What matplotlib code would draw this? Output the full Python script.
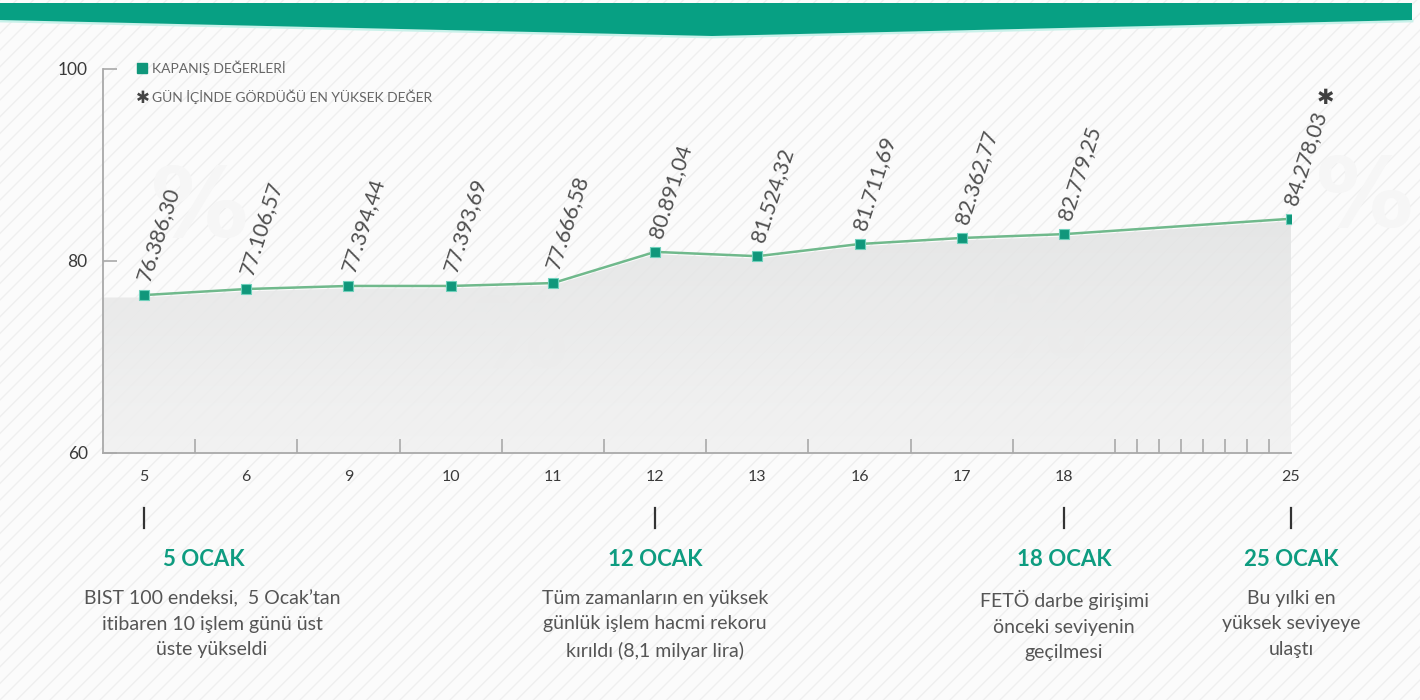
import matplotlib
matplotlib.use('Agg')
import matplotlib.pyplot as plt
import numpy as np
from matplotlib.patches import Polygon, Rectangle
from matplotlib.colors import LinearSegmentedColormap

# ---------------- data ----------------
days = ['5', '6', '9', '10', '11', '12', '13', '16', '17', '18', '25']
day_numbers = [5, 6, 9, 10, 11, 12, 13, 16, 17, 18, 25]
closing_labels = ['76.386,30', '77.106,57', '77.394,44', '77.393,69', '77.666,58',
                  '80.891,04', '81.524,32', '81.711,69', '82.362,77', '82.779,25',
                  '84.278,03']
# plotted level (thousand points) as drawn in the picture
closing_plotted = [76.45, 77.08, 77.40, 77.40, 77.70, 80.95, 80.50, 81.77, 82.40, 82.80, 84.40]
y_ticks = [60, 80, 100]
event_days = [5, 12, 18, 25]
event_titles = ['5 OCAK', '12 OCAK', '18 OCAK', '25 OCAK']
event_texts = ['BIST 100 endeksi,  5 Ocak\u2019tan\nitibaren 10 işlem günü üst\nüste yükseldi',
               'Tüm zamanların en yüksek\ngünlük işlem hacmi rekoru\nkırıldı (8,1 milyar lira)',
               'FETÖ darbe girişimi\nönceki seviyenin\ngeçilmesi',
               'Bu yılki en\nyüksek seviyeye\nulaştı']
legend_labels = ['KAPANIŞ DEĞERLERİ', 'GÜN İÇİNDE GÖRDÜĞÜ EN YÜKSEK DEĞER']
highlight_last = True

# ---------------- style ----------------
FONT = ['Lato', 'DejaVu Sans']
plt.rcParams['font.family'] = FONT
TEAL = '#0e9c80'
LINE = '#70b98c'
GREY = '#555555'
W, H = 1420, 700

fig = plt.figure(figsize=(W / 100, H / 100), dpi=100)
fig.patch.set_facecolor('#fcfcfc')

def fx(x):
    return x / W

def fy(y):
    return 1 - y / H

# background with faint diagonal stripes
plt.rcParams['hatch.linewidth'] = 1.0
bg = fig.add_axes([0, 0, 1, 1], zorder=0)
bg.set_xlim(0, W)
bg.set_ylim(H, 0)
bg.axis('off')
bg.add_patch(Rectangle((0, 0), W, H, facecolor='#fbfbfb', edgecolor='#efefef',
                       hatch='//', lw=0))
for (px, py) in [(200, 210), (520, 340), (1040, 330), (1365, 200)]:
    bg.text(px, py, '%', fontsize=70, color='#f6f6f6', ha='center', va='center',
            family='DejaVu Sans', weight='bold')

# top band
band = Polygon([(0, 3), (1412, 3), (1412, 20), (712, 36), (0, 20)], closed=True,
               facecolor='#07a083', edgecolor='none', zorder=2)
bg.add_patch(band)
bg.plot([0, 712, 1412], [21, 37, 21], color='#c9f1ea', lw=2, zorder=1.9)

# ---------------- main axes ----------------
x_left_px, x_right_px, y_top_px, y_bot_px = 103, 1291, 69, 453
ax = fig.add_axes([fx(x_left_px), fy(y_bot_px), fx(x_right_px - x_left_px),
                   (y_bot_px - y_top_px) / H], zorder=3)
ax.patch.set_alpha(0)

# positions: trading days evenly spaced, later calendar days compressed
compress = 0.317
pos = []
for i, d in enumerate(day_numbers):
    if i < 10:
        pos.append(float(i))
    else:
        pos.append(9 + (d - day_numbers[9]) * compress)
pos = np.array(pos)
vals = np.array(closing_plotted)

xmin = -0.40
ax.set_xlim(xmin, pos[-1])
ax.set_ylim(60, 100)

# gradient fill below line
fx_poly = np.concatenate([[xmin], pos, [pos[-1], xmin]])
fy_poly = np.concatenate([[vals[0] - 0.25], vals - 0.25, [60, 60]])
poly = Polygon(np.column_stack([fx_poly, fy_poly]), closed=True, facecolor='none',
               edgecolor='none')
ax.add_patch(poly)
grad = np.linspace(0, 1, 256).reshape(-1, 1)
cmap = LinearSegmentedColormap.from_list('g', ['#e1e2e2', '#f1f1f1'])
im = ax.imshow(grad, cmap=cmap, extent=[xmin, pos[-1], 60, 86], origin='upper',
               aspect='auto', alpha=0.85, zorder=1)
im.set_clip_path(poly)

ax.plot(pos, vals, color=LINE, lw=1.8, zorder=3)
ax.plot(pos, vals, ls='none', marker='s', ms=7.2, mfc='#10977b', mec='#6fd0bb',
        mew=0.8, zorder=4)

for i, (p, v, lab) in enumerate(zip(pos, vals, closing_labels)):
    ax.annotate(lab, (p, v), xytext=(0, 15), textcoords='offset pixels',
                rotation=72, rotation_mode='anchor', ha='left', va='center',
                fontsize=15.5, color='#505050', family=FONT, style='normal',
                zorder=5)
    if highlight_last and i == len(pos) - 1:
        ax.annotate('\u2731', (p, v), xytext=(34, 121), textcoords='offset pixels',
                    ha='center', va='center', fontsize=15, color='#404040',
                    family=['DejaVu Sans'], zorder=5)

# axes styling
for s in ['top', 'right']:
    ax.spines[s].set_visible(False)
for s in ['left', 'bottom']:
    ax.spines[s].set_color('#a9a9a9')
    ax.spines[s].set_linewidth(1.3)

ax.set_yticks(y_ticks)
ax.set_yticklabels([str(t) for t in y_ticks])
ax.tick_params(axis='y', direction='in', length=10, width=1.2, color='#a9a9a9',
               pad=11, labelsize=12.5, labelcolor='#3a3a3a')

ax.set_xticks(pos)
ax.set_xticklabels(days)
minor = list((pos[:-2] + pos[1:-1]) / 2)
minor += list(np.linspace(9.5, pos[-1], 9))
ax.set_xticks(minor, minor=True)
ax.tick_params(axis='x', which='major', length=0, pad=12, labelsize=11.5,
               labelcolor='#3a3a3a')
ax.tick_params(axis='x', which='minor', direction='in', length=10, width=1.2,
               color='#a9a9a9')

# legend (drawn manually)
bg.plot([142], [68], marker='s', ms=7, color='#10977b', ls='none')
bg.text(152, 68, legend_labels[0], fontsize=10, color='#666666', va='center', ha='left')
bg.text(143, 98, '\u2731', fontsize=12, color='#444444', va='center', ha='center',
        family=['DejaVu Sans'])
bg.text(152, 97, legend_labels[1], fontsize=10, color='#666666', va='center', ha='left')

# events below the axis
title_x = {5: 204}
text_x = {5: 212}
for d, t, body in zip(event_days, event_titles, event_texts):
    p = pos[day_numbers.index(d)]
    xpx = x_left_px + (p - xmin) / (pos[-1] - xmin) * (x_right_px - x_left_px)
    bg.plot([xpx, xpx], [508, 528], color='#333333', lw=1.6)
    bg.text(title_x.get(d, xpx), 560, t, fontsize=16, weight='bold', color=TEAL,
            ha='center', va='center')
    bg.text(text_x.get(d, xpx), 590, body, fontsize=14, color=GREY, ha='center',
            va='top', linespacing=1.6, multialignment='center')

fig.savefig('out.png', dpi=100, facecolor=fig.get_facecolor())
